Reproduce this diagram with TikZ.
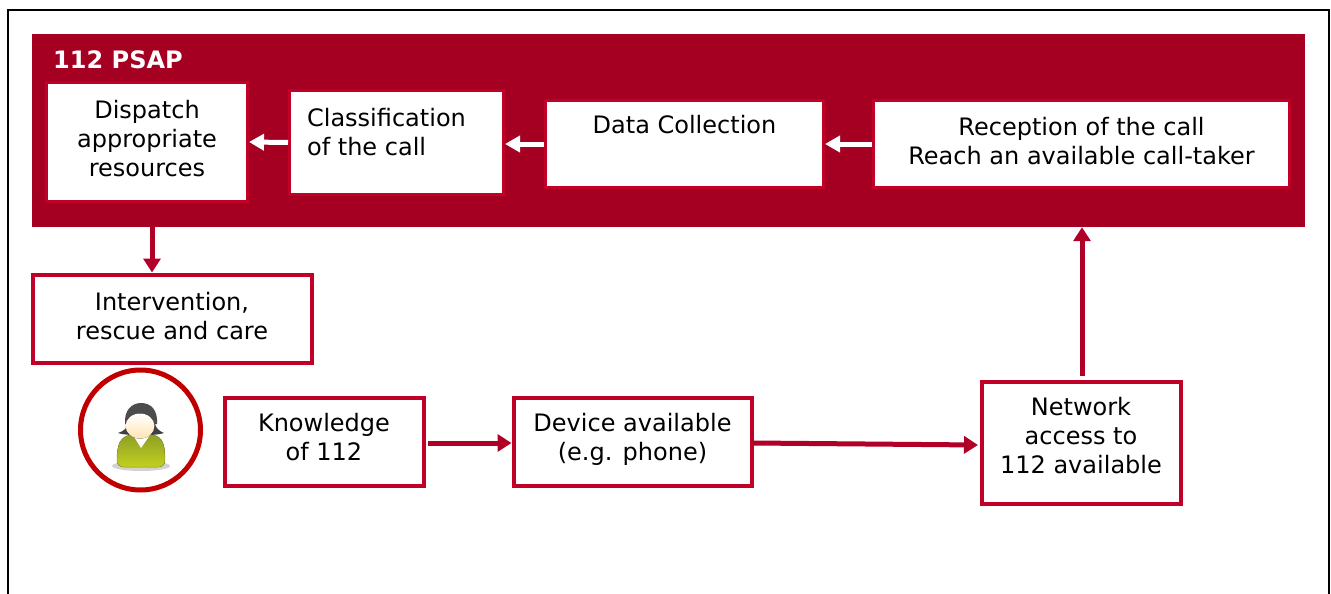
\documentclass[tikz,border=0pt]{standalone}
\usepackage{fontspec}
\setmainfont{DejaVu Sans}
\usetikzlibrary{arrows.meta}
\definecolor{panelred}{HTML}{A50021}
\definecolor{cellred}{HTML}{C00027}
\definecolor{flowred}{HTML}{B00028}
\definecolor{ringred}{HTML}{C00000}
\definecolor{bodygreen}{HTML}{A8BC2C}
\tikzset{celltext/.style={font=\fontsize{24}{29}\selectfont, align=center}}
\tikzset{cell/.style={rectangle, draw=cellred, line width=4pt, fill=white, inner sep=0pt}}
\tikzset{flow/.style={draw=flowred, line width=5pt, -{Triangle[length=14pt,width=17pt]}}}
\tikzset{backflow/.style={draw=white, line width=5pt, -{Triangle[length=15pt,width=16pt]}}}

\begin{document}
\begin{tikzpicture}[x=1pt,y=-1pt]

    \useasboundingbox (0,0) rectangle (1331,594);
    \draw[line width=2pt] (8,594) -- (8,10) -- (1329,10) -- (1329,594);

    \node[fill=panelred, minimum width=1273pt, minimum height=193pt, inner sep=0pt] (panel) at (668.5,130.5) {};
    \node[text=white, font=\fontsize{24}{29}\selectfont\bfseries, anchor=west, inner sep=0pt] (title) at (53,60) {112 PSAP};

    \node[cell, line width=3pt, minimum width=201pt, minimum height=119pt,
          label={[celltext, yshift=3.5pt]center:{Dispatch\\appropriate\\resources}}] (dispatch) at (147,142) {};
    \node[cell, line width=3pt, minimum width=214pt, minimum height=104pt,
          label={[celltext, align=left, xshift=-10pt, yshift=10.5pt]center:{Classification\\of the call}}] (classification) at (396.5,142.5) {};
    \node[cell, line width=3pt, minimum width=278pt, minimum height=87pt,
          label={[celltext, yshift=19pt]center:{Data Collection}}] (data) at (684.5,144) {};
    \node[cell, line width=3pt, minimum width=416pt, minimum height=87pt,
          label={[celltext, yshift=3pt]center:{Reception of the call\\Reach an available call-taker}}] (reception) at (1081.5,144) {};

    \node[cell, minimum width=279pt, minimum height=88pt,
          label={[celltext, yshift=2.5pt]center:{Intervention,\\rescue and care}}] (intervention) at (172,318.5) {};
    \node[cell, minimum width=199pt, minimum height=88pt,
          label={[celltext, yshift=4pt]center:{Knowledge\\of 112}}] (knowledge) at (324,441.5) {};
    \node[cell, minimum width=238pt, minimum height=88pt,
          label={[celltext, yshift=2pt]center:{Device available\\(e.g. phone)}}] (device) at (632.5,441.5) {};
    \node[cell, minimum width=199pt, minimum height=122pt,
          label={[celltext, yshift=7pt]center:{Network\\access to\\112 available}}] (network) at (1081,442.5) {};

    \draw[backflow] (classification.west) -- (dispatch.east);
    \draw[backflow] (data.west) -- (data.west -| classification.east);
    \draw[backflow] (reception.west) -- (data.east);

    \coordinate (dispatchout) at (152,227);
    \coordinate (knowledgeout) at (428,443);
    \coordinate (deviceout) at (753,443);
    \coordinate (networkin) at (978,445);
    \coordinate (networkout) at (1082,376);
    \draw[flow] (dispatchout) -- (dispatchout |- intervention.north);
    \draw[flow] (knowledgeout) -- (knowledgeout -| device.west);
    \draw[flow] (deviceout) -- (networkin);
    \draw[flow] (networkout) -- (networkout |- panel.south);

    \node[circle, draw=ringred, line width=5pt, fill=white, minimum size=120pt, inner sep=0pt] (ring) at (140.5,430) {};

    % person
    \fill[black!35, opacity=.5] (141,466) ellipse (29pt and 5pt);
    \fill[black!75] (118,433) .. controls (124,431) and (127,428) .. (128,424) -- (155,424) .. controls (156,428) and (159,431) .. (164,433) .. controls (156,436) and (126,436) .. (118,433) -- cycle;
    \fill[draw=bodygreen!80!black, top color=bodygreen!85!black, bottom color=bodygreen!70!yellow] (117,460) .. controls (117,445) and (120,437) .. (130,435) -- (153,435) .. controls (163,437) and (165,445) .. (165,460) .. controls (165,465) and (162,467) .. (158,467) -- (124,467) .. controls (120,467) and (117,465) .. (117,460) -- cycle;
    \fill[white] (133,435) -- (141,448) -- (150,435) -- cycle;
    \fill[black!70] (125,424) .. controls (124,410) and (132,403) .. (141,403) .. controls (151,403) and (158,410) .. (157,424) -- cycle;
    \fill[top color=white, bottom color=yellow!30!orange!30!white] (140,426) ellipse (14.5pt and 12.5pt);

\end{tikzpicture}
\end{document}
